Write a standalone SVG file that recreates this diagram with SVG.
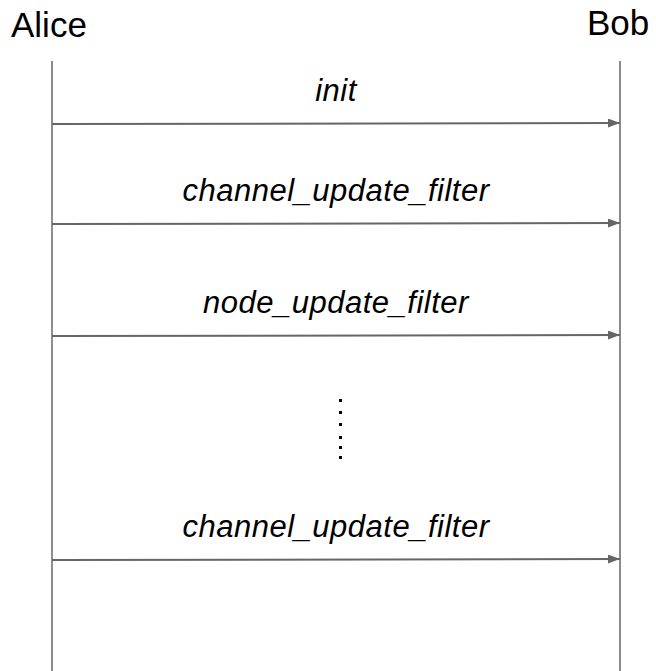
<svg xmlns="http://www.w3.org/2000/svg" width="656" height="671" viewBox="0 0 656 671">
  <style>
    .actor { font-family: "Liberation Sans", Arial, sans-serif; font-size: 35px; fill: #000; }
    .msg { font-family: "Liberation Sans", Arial, sans-serif; font-size: 31px; font-style: italic; letter-spacing: 0.5px; fill: #000; text-anchor: middle; }
    .life { stroke: #666; stroke-width: 1.5; fill: none; }
    .arrow { stroke: #666; stroke-width: 2; fill: none; marker-end: url(#head); }
    .dot { fill: #000; }
  </style>
  <defs>
    <marker id="head" markerUnits="userSpaceOnUse" markerWidth="13" markerHeight="9" refX="12" refY="4.5" orient="auto">
      <path d="M0,0 L12,4.5 L0,9 Z" fill="#666"/>
    </marker>
  </defs>
  <rect width="656" height="671" fill="#fff"/>

  <g id="alice">
    <text class="actor" x="11" y="37">Alice</text>
    <line class="life" x1="52" y1="61" x2="52" y2="671"/>
  </g>
  <g id="bob">
    <text class="actor" x="587" y="35">Bob</text>
    <line class="life" x1="620" y1="61" x2="620" y2="671"/>
  </g>

  <g id="connectors">
    <line class="arrow" x1="52" y1="124" x2="620" y2="123"/>
    <line class="arrow" x1="52" y1="224" x2="620" y2="223"/>
    <line class="arrow" x1="52" y1="336" x2="620" y2="335"/>
    <line class="arrow" x1="52" y1="560" x2="620" y2="559"/>
  </g>

  <g id="labels">
    <text class="msg" x="336" y="101">init</text>
    <text class="msg" x="336" y="201">channel_update_filter</text>
    <text class="msg" x="336" y="313">node_update_filter</text>
    <text class="msg" x="336" y="537">channel_update_filter</text>
  </g>

  <g id="ellipsis">
    <rect class="dot" x="339" y="399" width="3" height="3"/>
    <rect class="dot" x="339" y="411" width="3" height="3"/>
    <rect class="dot" x="339" y="423" width="3" height="3"/>
    <rect class="dot" x="339" y="436" width="3" height="3"/>
    <rect class="dot" x="339" y="446" width="3" height="3"/>
    <rect class="dot" x="339" y="456" width="3" height="3"/>
  </g>
</svg>
